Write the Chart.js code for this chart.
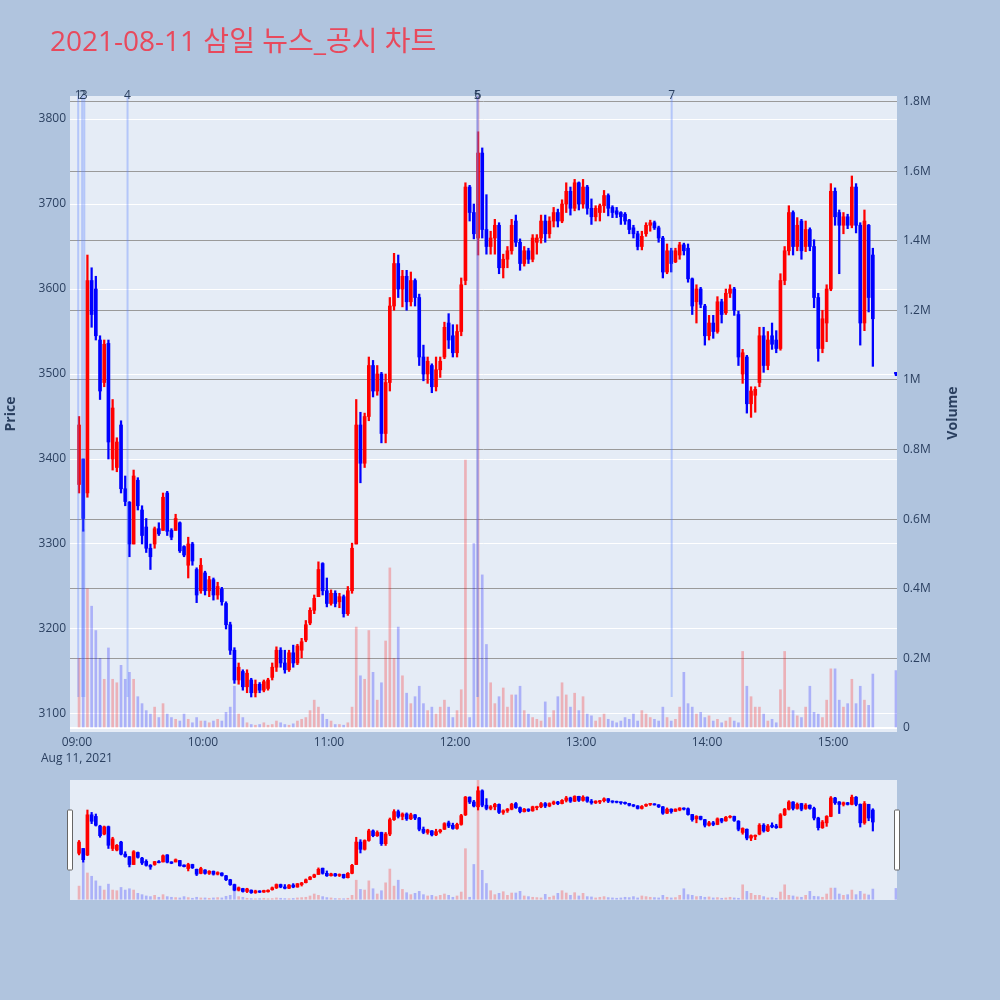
<!DOCTYPE html>
<html lang="ko">
<head>
<meta charset="utf-8">
<title>2021-08-11 삼일 뉴스_공시 차트</title>
<script src="https://cdn.jsdelivr.net/npm/chart.js@4.4.1/dist/chart.umd.min.js"></script>
<style>
  body { margin: 0; background: #b0c4de; font-family: "Open Sans", "Noto Sans CJK KR", sans-serif; }
  #wrap { position: relative; width: 1000px; height: 1000px; overflow: hidden; }
  #main { position: absolute; left: 0; top: 0; }
  #slider { position: absolute; left: 0; top: 780px; }
  #title { position: absolute; left: 50px; top: 21px; font-size: 28px; line-height: 38px; color: #e8495c; white-space: nowrap; }
  .axis-title { position: absolute; width: 80px; height: 18px; line-height: 18px; text-align: center;
                font-size: 14px; font-weight: bold; color: #2a3f5f; transform: rotate(-90deg); }
</style>
</head>
<body>
<div id="wrap">
  <canvas id="main" width="1000" height="780"></canvas>
  <canvas id="slider" width="1000" height="120"></canvas>
  <div id="title">2021-08-11 삼일 뉴스_공시 차트</div>
  <div class="axis-title" style="left:-30px; top:405px;">Price</div>
  <div class="axis-title" style="left:912px; top:404px;">Volume</div>
</div>
<script>
// 2-minute candles from 09:00, last one is the 15:30 closing print
const opens = [
  3370,3400,3360,3610,3600,3540,3490,3536,3400,3390,
  3440,3365,3349,3300,3375,3340,3320,3295,3300,3318,
  3316,3360,3316,3316,3325,3297,3275,3300,3270,3245,
  3266,3245,3258,3240,3247,3230,3205,3175,3140,3150,
  3132,3140,3125,3135,3128,3130,3143,3155,3175,3160,
  3152,3172,3160,3175,3187,3207,3222,3238,3277,3245,
  3230,3242,3232,3238,3218,3245,3300,3440,3395,3450,
  3510,3480,3500,3430,3490,3580,3630,3600,3615,3585,
  3610,3590,3520,3500,3510,3485,3505,3520,3560,3545,
  3525,3550,3610,3720,3690,3660,3760,3670,3650,3660,
  3675,3625,3635,3645,3680,3655,3630,3645,3635,3655,
  3660,3680,3665,3680,3690,3680,3700,3715,3695,3725,
  3700,3720,3695,3685,3690,3698,3710,3696,3692,3690,
  3688,3681,3672,3665,3650,3665,3675,3678,3672,3660,
  3620,3645,3632,3640,3652,3648,3612,3585,3600,3580,
  3545,3560,3550,3585,3572,3595,3600,3570,3500,3520,
  3465,3475,3490,3545,3510,3545,3540,3530,3610,3645,
  3690,3650,3680,3650,3670,3650,3590,3530,3560,3600,
  3715,3690,3675,3685,3675,3720,3675,3560,3675,3640,
  3502
];
const highs = [
  3450,3400,3640,3625,3615,3545,3540,3540,3470,3425,
  3445,3380,3350,3387,3378,3345,3330,3300,3320,3325,
  3360,3362,3318,3335,3326,3298,3308,3302,3272,3283,
  3268,3262,3260,3255,3249,3232,3208,3178,3160,3152,
  3152,3142,3140,3137,3140,3142,3160,3179,3178,3175,
  3175,3181,3182,3189,3210,3225,3240,3279,3278,3260,
  3246,3245,3242,3240,3250,3301,3470,3455,3454,3520,
  3516,3510,3502,3500,3590,3642,3640,3622,3622,3620,
  3612,3594,3534,3520,3512,3520,3520,3561,3571,3558,
  3558,3613,3725,3722,3700,3785,3766,3711,3668,3682,
  3678,3641,3650,3682,3687,3659,3650,3648,3664,3664,
  3687,3687,3685,3696,3694,3705,3725,3720,3729,3726,
  3729,3722,3706,3698,3700,3716,3712,3698,3696,3691,
  3690,3682,3675,3668,3668,3678,3681,3680,3674,3662,
  3653,3648,3648,3655,3654,3653,3613,3605,3602,3582,
  3569,3569,3591,3588,3600,3605,3602,3574,3529,3522,
  3485,3485,3555,3555,3550,3560,3551,3618,3650,3698,
  3692,3684,3682,3680,3672,3658,3595,3575,3605,3724,
  3719,3693,3690,3688,3733,3724,3678,3693,3676,3648,
  3502
];
const lows = [
  3360,3315,3355,3555,3540,3470,3485,3400,3387,3385,
  3360,3345,3285,3300,3340,3300,3290,3270,3295,3310,
  3316,3310,3305,3316,3290,3285,3260,3275,3231,3242,
  3240,3238,3234,3235,3228,3200,3170,3136,3135,3128,
  3125,3120,3120,3125,3126,3128,3140,3150,3155,3148,
  3150,3155,3158,3166,3185,3205,3218,3238,3240,3226,
  3228,3226,3225,3214,3216,3242,3300,3372,3390,3445,
  3473,3475,3419,3419,3480,3575,3590,3579,3575,3580,
  3580,3510,3492,3489,3478,3480,3496,3518,3530,3520,
  3520,3545,3605,3680,3659,3640,3660,3641,3641,3641,
  3618,3613,3625,3641,3650,3622,3627,3630,3632,3641,
  3654,3655,3660,3673,3673,3678,3690,3687,3692,3693,
  3695,3688,3676,3680,3680,3690,3686,3684,3684,3676,
  3676,3665,3660,3646,3646,3662,3668,3670,3655,3613,
  3618,3620,3631,3635,3640,3608,3570,3560,3578,3534,
  3540,3542,3548,3560,3570,3590,3569,3510,3489,3454,
  3449,3455,3485,3502,3505,3529,3525,3528,3605,3640,
  3640,3645,3635,3644,3645,3578,3515,3525,3538,3598,
  3675,3618,3665,3671,3672,3666,3534,3551,3573,3509,
  3498
];
const closes = [
  3440,3330,3610,3570,3545,3480,3535,3420,3460,3420,
  3365,3350,3300,3380,3345,3310,3295,3285,3318,3312,
  3355,3315,3308,3330,3292,3287,3300,3280,3240,3275,
  3245,3258,3240,3250,3232,3205,3175,3140,3155,3132,
  3148,3125,3135,3128,3138,3140,3155,3175,3160,3152,
  3172,3160,3180,3185,3205,3222,3236,3270,3245,3230,
  3242,3230,3238,3218,3245,3295,3440,3395,3450,3510,
  3480,3500,3430,3490,3580,3630,3600,3615,3585,3610,
  3590,3520,3500,3515,3485,3505,3515,3555,3540,3525,
  3550,3605,3720,3690,3665,3760,3670,3650,3660,3675,
  3625,3635,3645,3675,3655,3630,3645,3635,3660,3660,
  3680,3665,3680,3690,3680,3700,3715,3695,3725,3700,
  3720,3695,3685,3695,3698,3710,3695,3690,3688,3685,
  3680,3670,3665,3650,3662,3675,3678,3672,3660,3620,
  3645,3630,3645,3652,3645,3612,3580,3600,3582,3545,
  3560,3550,3585,3570,3595,3600,3575,3520,3525,3465,
  3480,3482,3545,3510,3540,3535,3530,3610,3645,3690,
  3650,3675,3645,3670,3650,3590,3530,3565,3600,3715,
  3685,3675,3685,3675,3720,3675,3560,3680,3590,3565,
  3500
];
// volume in thousand shares
const volumesK = [
  200,570,400,350,280,200,140,230,140,130,
  180,140,160,140,90,70,50,40,60,30,
  70,40,30,25,20,40,25,15,30,20,
  20,15,20,25,20,45,60,120,40,30,
  15,10,8,10,15,8,10,20,15,10,
  8,12,20,25,30,50,80,60,40,25,
  20,10,10,8,15,60,290,150,140,280,
  160,80,130,250,460,200,290,150,100,70,
  90,120,70,50,60,40,60,80,60,30,
  50,110,770,30,530,1900,440,240,130,70,
  90,115,60,95,95,120,50,40,30,25,
  20,75,30,50,90,130,95,60,100,50,
  90,40,35,20,30,40,25,20,15,20,
  30,25,40,20,50,40,30,25,20,60,
  30,20,25,60,160,70,60,40,45,30,
  35,20,25,15,20,30,20,15,220,120,
  90,60,60,40,20,25,15,110,220,60,
  50,35,30,60,120,45,40,30,80,170,
  170,80,60,70,140,70,120,80,65,155,
  165
];

const hourTicks = [0, 60, 120, 180, 240, 300, 360];
const hourLabels = ['09:00', '10:00', '11:00', '12:00', '13:00', '14:00', '15:00'];
const dateLabel = 'Aug 11, 2021';
const priceTicks = [3100, 3200, 3300, 3400, 3500, 3600, 3700, 3800];
const volumeTicks = [0, 200000, 400000, 600000, 800000, 1000000, 1200000, 1400000, 1600000, 1800000];
const volumeTickLabels = ['0', '0.2M', '0.4M', '0.6M', '0.8M', '1M', '1.2M', '1.4M', '1.6M', '1.8M'];

// news / disclosure markers (minutes after 09:00)
const eventMinutes = [0.6, 2.5, 3.5, 24.1, 190.6, 190.9, 283.2];
const eventLabels = ['1', '2', '3', '4', '5', '6', '7'];
const eventLineBottom = 3120;

const minutes = opens.map((_, i) => i < opens.length - 1 ? i * 2 + 1 : 390);
const isUp = closes.map((c, i) => c >= opens[i]);
const candleColors = isUp.map(u => u ? '#ff0000' : '#0000ff');
const volumeColors = isUp.map(u => u ? 'rgba(255,0,0,0.25)' : 'rgba(0,0,255,0.25)');

const tickColor = '#2a3f5f';
Chart.defaults.font.family = '"Open Sans", sans-serif';
Chart.defaults.font.size = 12;
Chart.defaults.color = tickColor;

const makeDatasets = (bodyW, wickW, volW) => [
  {
    label: 'Volume', yAxisID: 'y2', order: 3, grouped: false,
    data: minutes.map((t, i) => ({ x: t, y: volumesK[i] * 1000 })),
    backgroundColor: volumeColors, barThickness: volW
  },
  {
    label: 'High-Low', yAxisID: 'y', order: 2, grouped: false,
    data: minutes.map((t, i) => ({ x: t, y: [lows[i], highs[i]] })),
    backgroundColor: candleColors, barThickness: wickW
  },
  {
    label: 'Open-Close', yAxisID: 'y', order: 1, grouped: false, minBarLength: 1,
    data: minutes.map((t, i) => ({ x: t, y: [opens[i], closes[i]] })),
    backgroundColor: candleColors, barThickness: bodyW
  }
];

const xRange = { min: -3.3, max: 390.5 };
const priceRange = { min: 3078.8, max: 3827.1 };
const volumeRange = { min: -11500, max: 1816000 };

const plotBg = {
  id: 'plotBg',
  beforeDraw(chart) {
    const a = chart.chartArea;
    chart.ctx.save();
    chart.ctx.fillStyle = '#e5ecf6';
    chart.ctx.fillRect(a.left, a.top, a.right - a.left, a.bottom - a.top);
    chart.ctx.restore();
  }
};

const eventMarkers = {
  id: 'eventMarkers',
  afterDatasetsDraw(chart) {
    const { ctx, chartArea, scales } = chart;
    const yBottom = scales.y.getPixelForValue(eventLineBottom);
    ctx.save();
    ctx.strokeStyle = 'rgba(90,130,255,0.35)';
    ctx.lineWidth = 2;
    eventMinutes.forEach(t => {
      const x = scales.x.getPixelForValue(t);
      ctx.beginPath();
      ctx.moveTo(x, chartArea.top);
      ctx.lineTo(x, yBottom);
      ctx.stroke();
    });
    ctx.fillStyle = tickColor;
    ctx.font = '12px "Open Sans", sans-serif';
    ctx.textAlign = 'center';
    ctx.textBaseline = 'middle';
    eventMinutes.forEach((t, i) => {
      ctx.fillText(eventLabels[i], scales.x.getPixelForValue(t), chartArea.top);
    });
    ctx.restore();
  }
};

const sliderHandles = {
  id: 'sliderHandles',
  afterDraw(chart) {
    const { ctx, chartArea } = chart;
    const h = chartArea.bottom - chartArea.top;
    ctx.save();
    ctx.fillStyle = '#ffffff';
    ctx.strokeStyle = '#666666';
    ctx.lineWidth = 1;
    [chartArea.left, chartArea.right].forEach(x => {
      ctx.beginPath();
      ctx.roundRect(x - 2.5, chartArea.top + h * 0.25, 5, h * 0.5, 1);
      ctx.fill();
      ctx.stroke();
    });
    ctx.restore();
  }
};

new Chart(document.getElementById('main'), {
  type: 'bar',
  data: { datasets: makeDatasets(3, 1.6, 2) },
  options: {
    responsive: false,
    animation: false,
    layout: { padding: { top: 96, left: 0, right: 0, bottom: 0 } },
    plugins: { legend: { display: false }, tooltip: { enabled: false } },
    scales: {
      x: {
        type: 'linear', min: xRange.min, max: xRange.max, offset: false,
        grid: { display: false, drawTicks: false }, border: { display: false },
        afterBuildTicks: s => { s.ticks = hourTicks.map(v => ({ value: v })); },
        afterFit: s => { s.height = 48; },
        ticks: {
          padding: 2, maxRotation: 0, autoSkip: false, color: tickColor,
          font: { size: 12, lineHeight: 1.35 },
          callback: v => {
            const i = hourTicks.indexOf(v);
            if (i === 0) return [hourLabels[0], dateLabel];
            return i >= 0 ? hourLabels[i] : '';
          }
        }
      },
      y: {
        type: 'linear', position: 'left', min: priceRange.min, max: priceRange.max,
        grid: { color: '#ffffff', lineWidth: 1, drawTicks: false }, border: { display: false },
        afterFit: s => { s.width = 70; },
        afterBuildTicks: s => { s.ticks = priceTicks.map(v => ({ value: v })); },
        ticks: { padding: 4, color: tickColor, callback: v => String(v) }
      },
      y2: {
        type: 'linear', position: 'right', min: volumeRange.min, max: volumeRange.max,
        grid: {
          drawTicks: false,
          color: c => (c.tick && c.tick.value === 0) ? '#ffffff' : '#9a9a9a',
          lineWidth: c => (c.tick && c.tick.value === 0) ? 2 : 1
        },
        border: { display: false },
        afterFit: s => { s.width = 103; },
        afterBuildTicks: s => { s.ticks = volumeTicks.map(v => ({ value: v })); },
        ticks: {
          padding: 6, color: tickColor,
          callback: v => {
            const i = volumeTicks.indexOf(v);
            return i >= 0 ? volumeTickLabels[i] : '';
          }
        }
      }
    }
  },
  plugins: [plotBg, eventMarkers]
});

new Chart(document.getElementById('slider'), {
  type: 'bar',
  data: { datasets: makeDatasets(3, 1.5, 2) },
  options: {
    responsive: false,
    animation: false,
    layout: { padding: { top: 0, left: 70, right: 103, bottom: 0 } },
    plugins: { legend: { display: false }, tooltip: { enabled: false } },
    scales: {
      x: { type: 'linear', display: false, offset: false, min: xRange.min, max: xRange.max },
      y: { type: 'linear', display: false, min: priceRange.min, max: priceRange.max },
      y2: { type: 'linear', display: false, min: volumeRange.min, max: volumeRange.max }
    }
  },
  plugins: [plotBg, sliderHandles]
});
</script>
</body>
</html>
